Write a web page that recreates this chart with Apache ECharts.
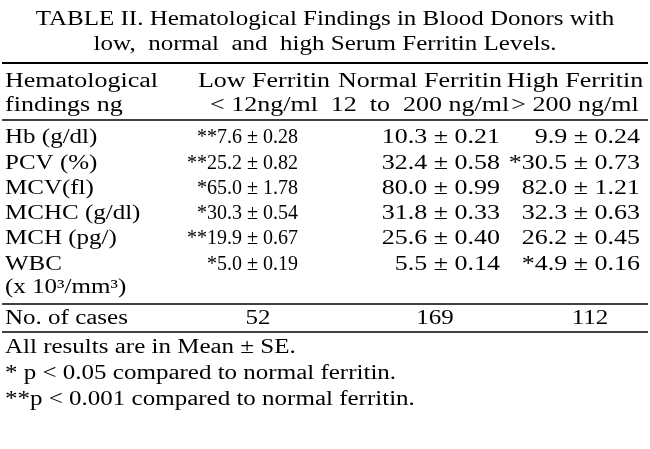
<!DOCTYPE html>
<html><head><meta charset="utf-8">
<script src="https://cdn.jsdelivr.net/npm/echarts@6/dist/echarts.min.js"></script>
<style>html,body{margin:0;padding:0;background:#fff}#c{width:650px;height:449px}</style>
</head><body><div id="c"></div>
<script>
const titleLines = ["TABLE II. Hematological Findings in Blood Donors with", "low,  normal  and  high Serum Ferritin Levels."];
const headerRow1 = ["Hematological", "Low Ferritin", "Normal Ferritin", "High Ferritin"];
const headerRow2 = ["findings ng", "< 12ng/ml", "12  to  200 ng/ml", "> 200 ng/ml"];
const rowLabels = ["Hb (g/dl)", "PCV (%)", "MCV(fl)", "MCHC (g/dl)", "MCH (pg/)", "WBC"];
const lowValues = ["**7.6 ± 0.28", "**25.2 ± 0.82", "*65.0 ± 1.78", "*30.3 ± 0.54", "**19.9 ± 0.67", "*5.0 ± 0.19"];
const normalValues = ["10.3 ± 0.21", "32.4 ± 0.58", "80.0 ± 0.99", "31.8 ± 0.33", "25.6 ± 0.40", "5.5 ± 0.14"];
const highValues = ["9.9 ± 0.24", "*30.5 ± 0.73", "82.0 ± 1.21", "32.3 ± 0.63", "26.2 ± 0.45", "*4.9 ± 0.16"];
const wbcUnit = "(x 10³/mm³)";
const casesLabel = "No. of cases";
const casesValues = ["52", "169", "112"];
const notes = ["All results are in Mean ± SE.", "* p < 0.05 compared to normal ferritin.", "**p < 0.001 compared to normal ferritin."];

const font = '20px "Liberation Serif", "DejaVu Serif", serif';
const g = [];
function t(x, y, s, align, sx) {
  g.push({type:'text', x, y, scaleX: sx || 1.25, originX:0, originY:0,
    style:{text:s, font, fill:'#000', textAlign:align||'left', textVerticalAlign:'middle'}});
}
function line(y, w) {
  g.push({type:'line', shape:{x1:2, y1:y, x2:648, y2:y}, style:{stroke:'#000', lineWidth:w||1.5}});
}
t(325, 20, titleLines[0], 'center');
t(325, 45, titleLines[1], 'center');
line(63, 2);
const hx = [5, 264, 420, 575];
t(hx[0], 82, headerRow1[0], 'left', 1.3); t(hx[0], 106, headerRow2[0], 'left', 1.3);
for (let i = 1; i < 4; i++) { t(hx[i], 82, headerRow1[i], 'center', 1.3); t(hx[i], 106, headerRow2[i], 'center', 1.3); }
line(120, 1.5);
rowLabels.forEach((lab, i) => {
  const y = 138 + i * 25.3;
  t(5, y, lab);
  t(298, y, lowValues[i], 'right', 1.0);
  t(500, y, normalValues[i], 'right', 1.3);
  t(640, y, highValues[i], 'right', 1.3);
});
t(5, 288, wbcUnit);
line(304, 1.5);
t(5, 319, casesLabel);
t(258, 319, casesValues[0], 'center');
t(435, 319, casesValues[1], 'center');
t(590, 319, casesValues[2], 'center');
line(332, 1.5);
notes.forEach((n, i) => t(5, 348 + i * 26, n));

const chart = echarts.init(document.getElementById('c'));
chart.setOption({animation:false, graphic:g});
</script></body></html>
